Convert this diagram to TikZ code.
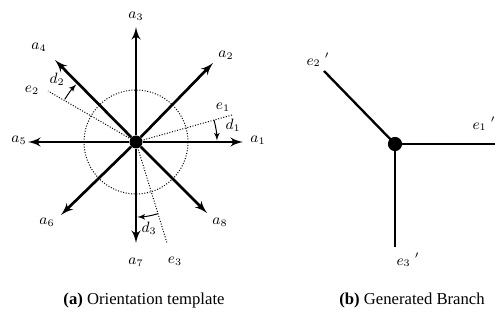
\documentclass[tikz,border=0pt]{standalone}
\usepackage{amsmath}
\usepackage{fontspec}
\setmainfont{Liberation Serif}
\usetikzlibrary{arrows}
\tikzset{hub/.style = {shape = circle, fill, inner sep = 0pt, minimum size = 7.8pt}}
\tikzset{arm/.style = {->, > = latex', line width = 1.6pt}}
\tikzset{ray/.style = {densely dotted, line width = 0.6pt}}
\tikzset{sweep/.style = {->, > = latex', line width = 0.6pt}}
\tikzset{branch/.style = {line width = 1.4pt}}
\tikzset{tag/.style = {inner sep = 1pt, font = \small}}

\begin{document}
\begin{tikzpicture}[x = 0.6pt, y = 0.6pt]
			\useasboundingbox (0, 0) rectangle (495, 326);

			% (a) orientation template
			\node[hub] (o) at (136, 184) {};
			\coordinate (a1) at (243, 184);
			\coordinate (a2) at (213, 263);
			\coordinate (a3) at (136, 299);
			\coordinate (a4) at (55, 266);
			\coordinate (a5) at (28, 184);
			\coordinate (a6) at (61, 111);
			\coordinate (a7) at (136, 83);
			\coordinate (a8) at (207, 113);
			\coordinate (e1) at (232, 211);
			\coordinate (e2) at (48, 235);
			\coordinate (e3) at (167, 83);

			\node[tag] (la1) at (258, 186) {$a_1$};
			\node[tag] (la2) at (226, 271) {$a_2$};
			\node[tag] (la3) at (136, 310) {$a_3$};
			\node[tag] (la4) at (39, 279) {$a_4$};
			\node[tag] (la5) at (19, 186) {$a_5$};
			\node[tag] (la6) at (47, 104) {$a_6$};
			\node[tag] (la7) at (136, 64) {$a_7$};
			\node[tag] (la8) at (220, 104) {$a_8$};
			\node[tag] (le1) at (223, 219) {$e_1$};
			\node[tag] (le2) at (32, 236) {$e_2$};
			\node[tag] (le3) at (175, 65) {$e_3$};
			\node[tag] (ld1) at (233, 201) {$d_1$};
			\node[tag] (ld2) at (57, 247) {$d_2$};
			\node[tag] (ld3) at (149, 98) {$d_3$};

			\draw[ray] (o.center) circle [radius = 52];
			\draw[ray] (o.center) to (e1);
			\draw[ray] (o.center) to (e2);
			\draw[ray] (o.center) to (e3);

			\draw[arm] (o) to (a1);
			\draw[arm] (o) to (a2);
			\draw[arm] (o) to (a3);
			\draw[arm] (o) to (a4);
			\draw[arm] (o) to (a5);
			\draw[arm] (o) to (a6);
			\draw[arm] (o) to (a7);
			\draw[arm] (o) to (a8);

			\draw[sweep] ([shift = {(15.7:81)}]o.center) arc (15.7:1:81);
			\draw[sweep] ([shift = {(149:83)}]o.center) arc (149:136:83);
			\draw[sweep] ([shift = {(-73:75)}]o.center) arc (-73:-89:75);

			% (b) generated branch
			\node[hub, minimum size = 8.5pt] (b) at (395, 182) {};
			\coordinate (f1) at (495, 182);
			\coordinate (f2) at (324, 255);
			\coordinate (f3) at (395, 79);

			\node[tag] (lf1) at (484, 202) {$e_1\;'$};
			\node[tag] (lf2) at (318, 266) {$e_2\;'$};
			\node[tag] (lf3) at (408, 66) {$e_3\;'$};

			\draw[branch] (b.center) to (f1);
			\draw[branch] (b.center) to (f2);
			\draw[branch] (b.center) to (f3);

			\node (capa) at (144, 26) {\textbf{(a)} Orientation template};
			\node (capb) at (412, 26) {\textbf{(b)} Generated Branch};
		\end{tikzpicture}
\end{document}
